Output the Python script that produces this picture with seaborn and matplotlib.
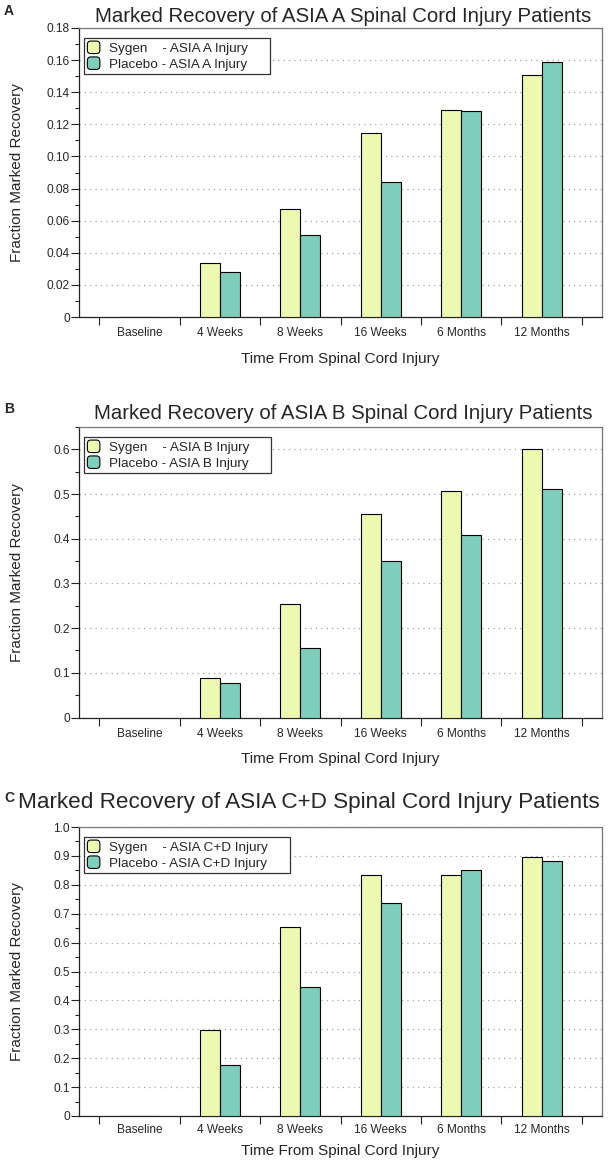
import numpy as np
import pandas as pd
import matplotlib
matplotlib.use("Agg")
import matplotlib.pyplot as plt
import seaborn as sns
from matplotlib.patches import FancyBboxPatch, Patch
from matplotlib.legend_handler import HandlerPatch
from matplotlib.ticker import MultipleLocator, FixedLocator, FuncFormatter

# ---------------- data ----------------
categories = ["Baseline", "4 Weeks", "8 Weeks", "16 Weeks", "6 Months", "12 Months"]
groups = ["Sygen", "Placebo"]

asia_a_sygen = [0.0, 0.0336, 0.0675, 0.1148, 0.1288, 0.1508]
asia_a_placebo = [0.0, 0.0279, 0.0513, 0.0838, 0.1281, 0.1586]

asia_b_sygen = [0.0, 0.089, 0.254, 0.455, 0.507, 0.600]
asia_b_placebo = [0.0, 0.077, 0.155, 0.350, 0.408, 0.511]

asia_cd_sygen = [0.0, 0.297, 0.655, 0.835, 0.833, 0.895]
asia_cd_placebo = [0.0, 0.176, 0.445, 0.737, 0.851, 0.884]

titles = ["Marked Recovery of ASIA A Spinal Cord Injury Patients",
          "Marked Recovery of ASIA B Spinal Cord Injury Patients",
          "Marked Recovery of ASIA C+D Spinal Cord Injury Patients"]
legend_labels = [["Sygen    - ASIA A Injury", "Placebo - ASIA A Injury"],
                 ["Sygen    - ASIA B Injury", "Placebo - ASIA B Injury"],
                 ["Sygen    - ASIA C+D Injury", "Placebo - ASIA C+D Injury"]]
panel_letters = ["A", "B", "C"]
ylims = [0.18, 0.65, 1.0]
ymajor = [0.02, 0.1, 0.1]
yminor = [0.01, 0.05, 0.05]
ydec = [2, 1, 1]
xlabel = "Time From Spinal Cord Injury"
ylabel = "Fraction Marked Recovery"

colors = ["#EDF8B1", "#7FCDBB"]

# ---------------- style ----------------
sns.set_style("ticks")
plt.rcParams["font.family"] = ["Liberation Sans", "DejaVu Sans"]

W, H = 610, 1165
fig = plt.figure(figsize=(W / 100, H / 100), dpi=100)

# axes boxes in pixels: (left, top, right, bottom)
boxes = [(79, 28, 602, 317), (79, 427, 602, 717.5), (79, 827, 602, 1116)]
# title placement (x center px, baseline px, size)
title_pos = [(343, 21.5, 14.7), (343.5, 419.5, 14.7), (309, 808, 16.2)]
letter_base = [15, 413, 802]
xlabel_off = [42, 41, 35]
xtick_pad = [7.5, 7.5, 6.0]


class RoundHandler(HandlerPatch):
    def create_artists(self, legend, orig_handle, xdescent, ydescent,
                       width, height, fontsize, trans):
        s = min(width, height)
        p = FancyBboxPatch((-xdescent, -ydescent + (height - s) / 2), s, s,
                           boxstyle="round,pad=0,rounding_size=2.5",
                           facecolor=orig_handle.get_facecolor(),
                           edgecolor="black", linewidth=0.8,
                           transform=trans)
        return [p]


series = [(asia_a_sygen, asia_a_placebo),
          (asia_b_sygen, asia_b_placebo),
          (asia_cd_sygen, asia_cd_placebo)]

for i, ((l, t, r, b), (syg, pla)) in enumerate(zip(boxes, series)):
    ax = fig.add_axes([l / W, 1 - b / H, (r - l) / W, (b - t) / H])
    df = pd.DataFrame({
        "time": categories * 2,
        "group": [groups[0]] * len(categories) + [groups[1]] * len(categories),
        "value": list(syg) + list(pla),
    })
    sns.barplot(data=df, x="time", y="value", hue="group", order=categories,
                hue_order=groups, palette=colors, saturation=1, width=0.5,
                edgecolor="black", linewidth=0.8, ax=ax, legend=False,
                errorbar=None, zorder=3)
    ax.set_xlim(-0.75, len(categories) - 0.25)
    ax.set_ylim(0, ylims[i])

    # y axis
    ax.yaxis.set_major_locator(MultipleLocator(ymajor[i]))
    ax.yaxis.set_minor_locator(MultipleLocator(yminor[i]))
    d = ydec[i]
    ax.yaxis.set_major_formatter(FuncFormatter(
        lambda v, p, d=d: "0" if abs(v) < 1e-9 else f"{v:.{d}f}"))
    ax.tick_params(axis="y", which="major", length=6, width=0.8, pad=0.5,
                   labelsize=8.6, direction="out", color="#222222")
    ax.tick_params(axis="y", which="minor", length=3, width=0.8,
                   direction="out", color="#222222")

    # x axis
    ax.xaxis.set_minor_locator(FixedLocator(np.arange(-0.5, len(categories), 1.0)))
    ax.tick_params(axis="x", which="major", length=0, pad=xtick_pad[i],
                   labelsize=8.6)
    ax.tick_params(axis="x", which="minor", length=5.5, width=0.8,
                   direction="out", color="#222222")

    ax.yaxis.grid(True, which="major", color="#9a9a9a", linewidth=0.9,
                  linestyle=(0, (0.9, 3.4)))
    ax.set_axisbelow(True)

    for side in ["left", "bottom"]:
        ax.spines[side].set_color("#222222")
        ax.spines[side].set_linewidth(0.9)
    for side in ["top", "right"]:
        ax.spines[side].set_visible(True)
        ax.spines[side].set_color("#777777")
        ax.spines[side].set_linewidth(0.9)

    ax.set_xlabel(xlabel, fontsize=11, va="center")
    ax.xaxis.set_label_coords(0.5, -xlabel_off[i] / (b - t))
    ax.set_ylabel(ylabel, fontsize=11, va="center")
    ax.yaxis.set_label_coords((16.7 - l) / (r - l), 0.5)

    handles = [Patch(facecolor=c, edgecolor="black") for c in colors]
    labels = [s + "     " for s in legend_labels[i]]
    leg = ax.legend(handles, labels, loc="upper left",
                    bbox_to_anchor=((84 - l) / (r - l), 1 - 9.7 / (b - t)),
                    borderaxespad=0, fontsize=9.7, handlelength=1.05,
                    handleheight=1.05, handletextpad=0.55, labelspacing=0.15,
                    borderpad=0.25, fancybox=False, framealpha=1,
                    edgecolor="#333333",
                    handler_map={Patch: RoundHandler()})
    leg.get_frame().set_linewidth(0.9)
    leg.set_zorder(5)

    tx, tb, ts = title_pos[i]
    fig.text(tx / W, 1 - tb / H, titles[i], ha="center", va="baseline",
             fontsize=ts)
    fig.text(4 / W, 1 - letter_base[i] / H, panel_letters[i], ha="left",
             va="baseline", fontsize=10, fontweight="bold")

fig.savefig("out.png", dpi=100)
